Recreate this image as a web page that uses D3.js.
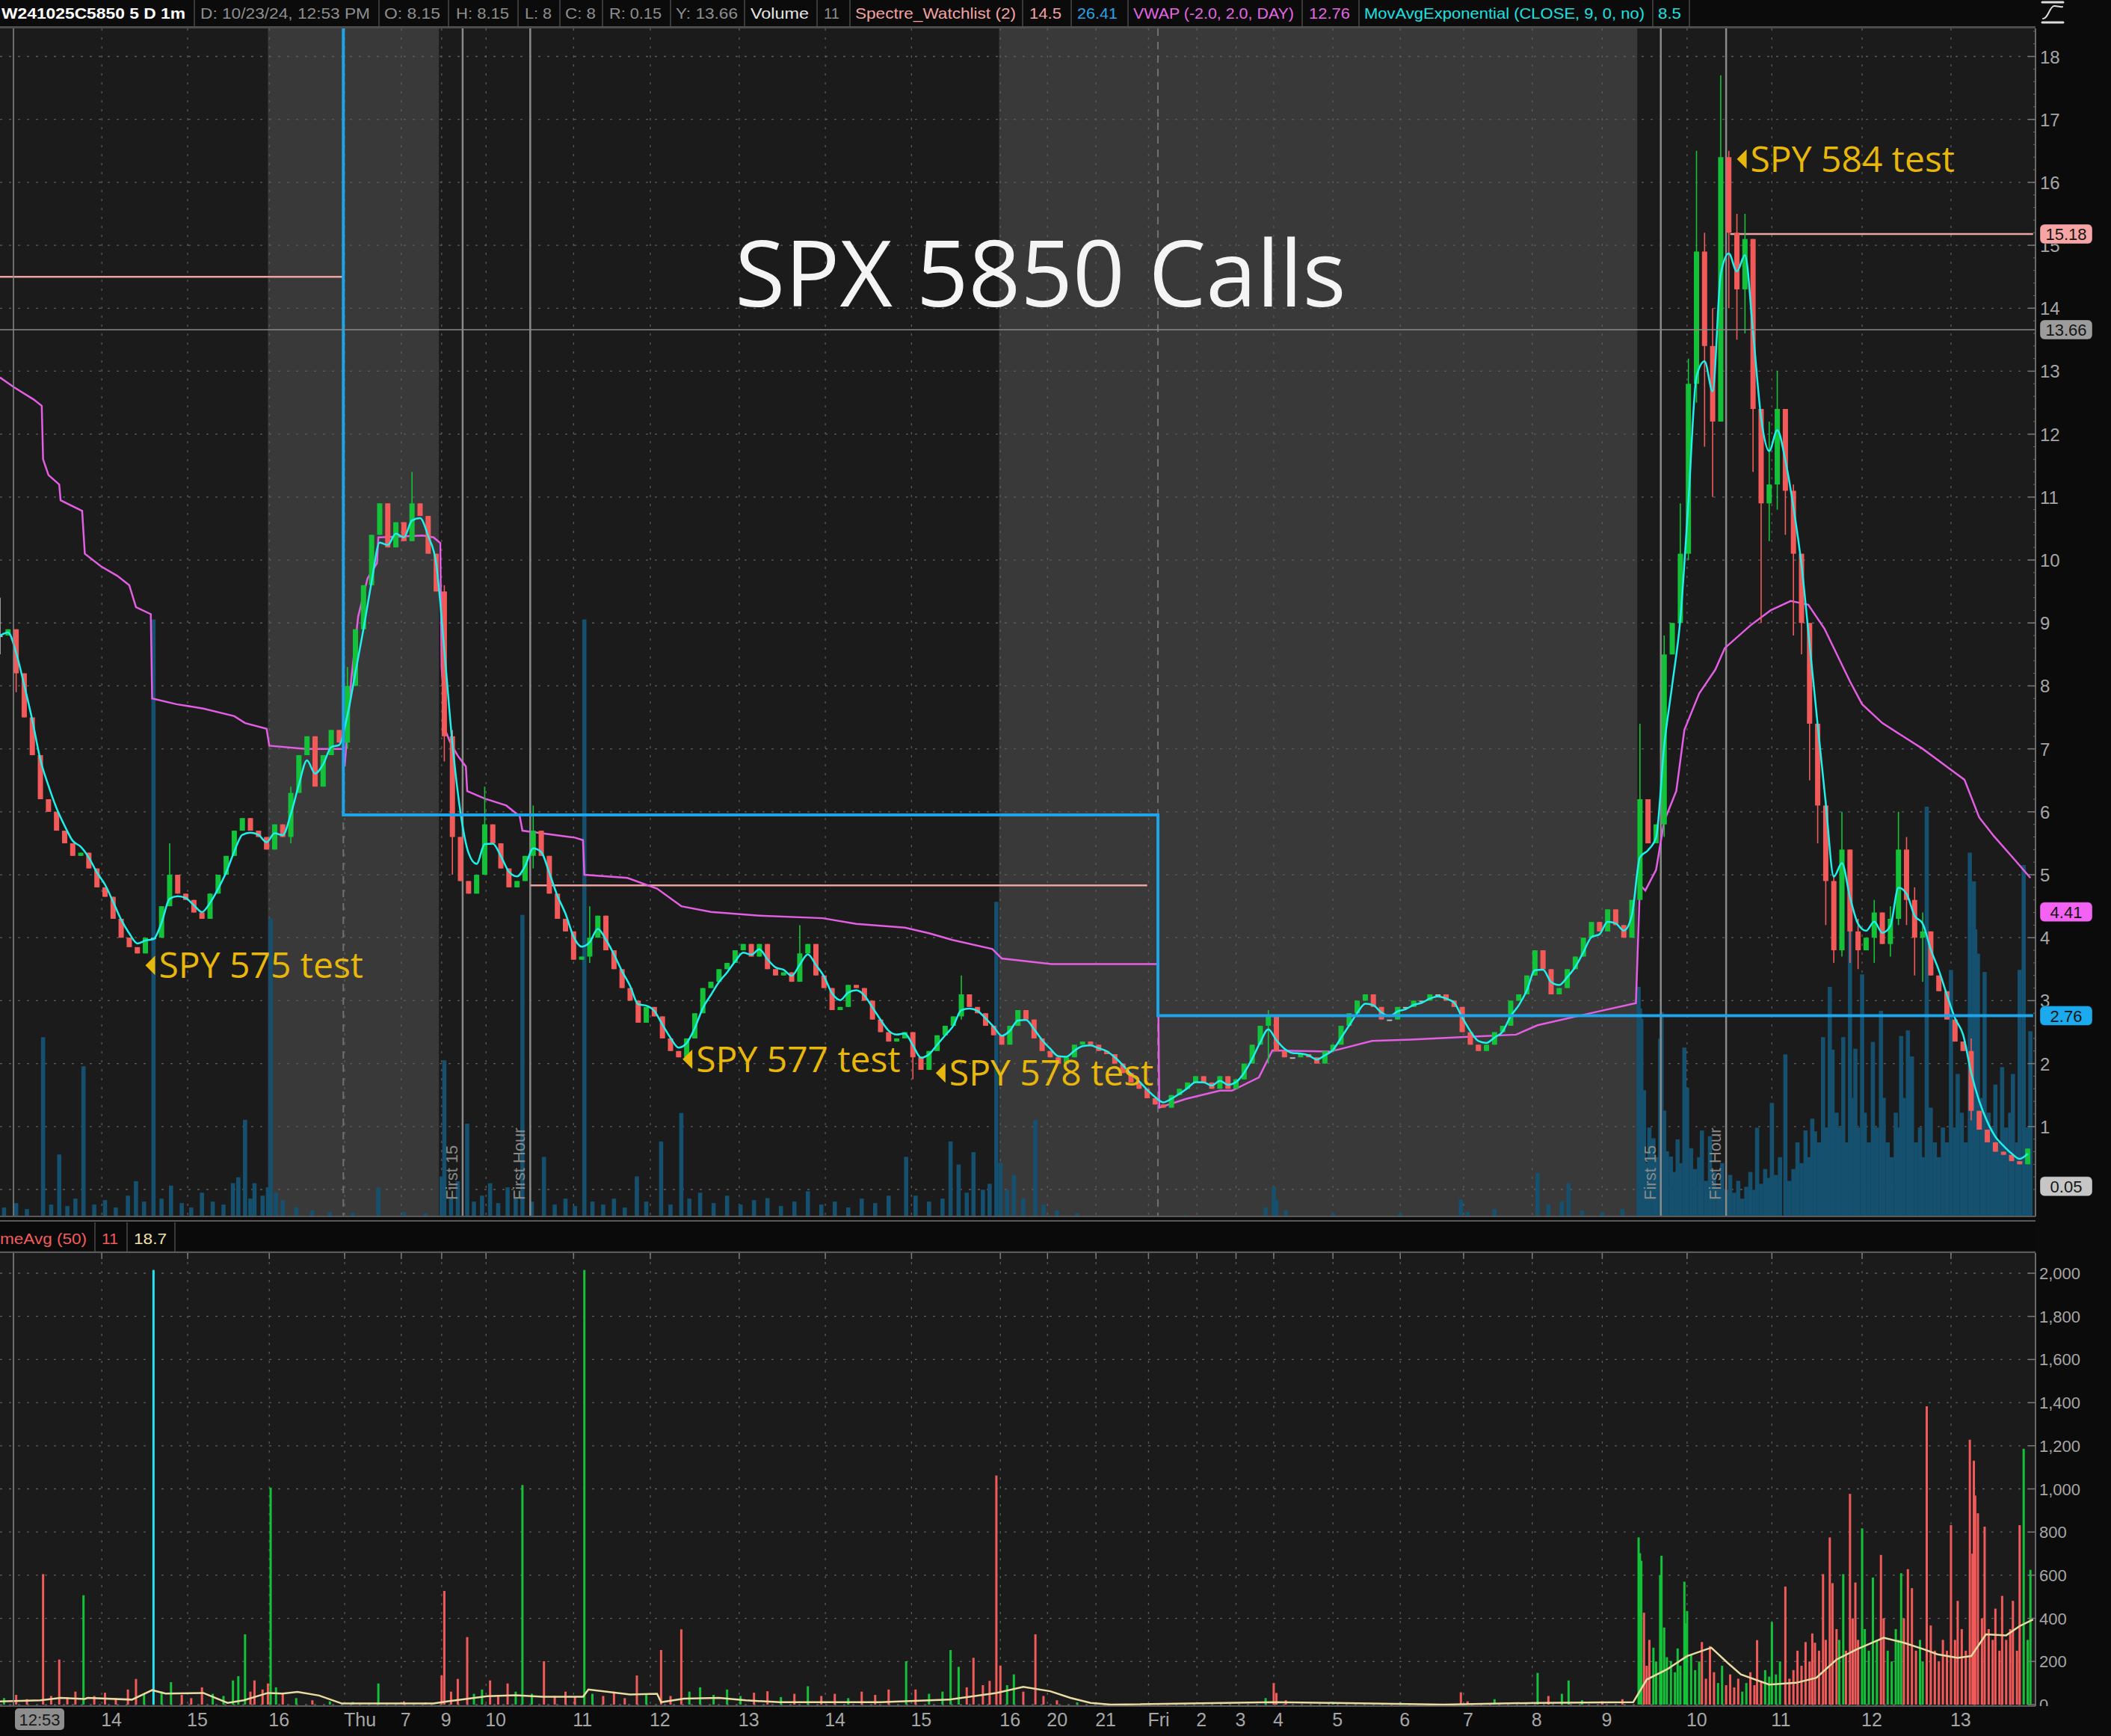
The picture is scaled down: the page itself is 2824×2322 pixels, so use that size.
<!DOCTYPE html>
<meta charset="utf-8">
<style>
body { margin: 0; background: #0b0b0b; }
svg { display: block; }
.ui { font-family: "Liberation Sans", Arial, sans-serif; }
.big { font-family: "Open Sans", "Noto Sans", sans-serif; }
</style>
<svg width="2824" height="2322"></svg>
<script src="https://cdn.jsdelivr.net/npm/d3@7"></script>
<script>

// ---- data (bar = one step of the compressed intraday time axis) ----

// closes every 6 bars, W241025C5850 1m chart
var closes = [
  8.8, 8.9, 8.2, 7.5, 6.9, 6.2, 6.0, 5.7, 5.5, 5.3,
  5.35, 5.1, 4.8, 4.65, 4.3, 4.0, 3.85, 3.75, 4.0, 4.0,
  4.5, 5.0, 4.7, 4.6, 4.4, 4.3, 4.7, 5.0, 5.3, 5.7,
  5.9, 5.7, 5.6, 5.4, 5.8, 5.6, 6.3, 6.9, 7.2, 6.4,
  6.9, 7.3, 7.1, 8.0, 8.9, 9.6, 10.4, 10.9, 10.2, 10.6,
  10.3, 10.9, 10.7, 10.1, 9.5, 7.2, 5.6, 4.9, 4.7, 5.0,
  5.8, 5.5, 5.1, 4.8, 4.9, 5.3, 5.7, 5.3, 4.7, 4.3,
  4.1, 3.65, 3.7, 4.0, 4.35, 3.8, 3.5, 3.2, 3.0, 2.65,
  2.9, 2.75, 2.4, 2.2, 2.1, 2.4, 2.8, 3.2, 3.3, 3.5,
  3.6, 3.8, 3.9, 3.7, 3.9, 3.5, 3.4, 3.45, 3.3, 3.75,
  3.9, 3.4, 3.2, 2.85, 2.9, 3.25, 3.2, 3.0, 2.7, 2.5,
  2.35, 2.4, 2.5, 2.1, 1.9, 2.2, 2.45, 2.6, 2.75, 3.1,
  2.9, 2.8, 2.6, 2.45, 2.3, 2.6, 2.85, 2.7, 2.4, 2.2,
  2.1, 2.0, 2.1, 2.3, 2.35, 2.3, 2.2, 2.15, 2.0, 1.85,
  1.7, 1.6, 1.45, 1.35, 1.3, 1.5, 1.6, 1.7, 1.8, 1.7,
  1.6, 1.8, 1.6, 1.75, 2.0, 2.3, 2.6, 2.75, 2.2, 2.1,
  2.1, 2.15, 2.1, 2.0, 2.2, 2.3, 2.6, 2.8, 3.0, 3.1,
  2.9, 2.7, 2.7, 2.9, 2.9, 3.0, 3.0, 3.1, 3.1, 3.0,
  2.9, 2.5, 2.3, 2.2, 2.3, 2.5, 2.6, 3.0, 3.1, 3.4,
  3.8, 3.5, 3.1, 3.2, 3.5, 3.7, 4.0, 4.25, 4.1, 4.45,
  4.2, 4.0, 4.6, 6.2, 5.5, 5.8, 8.5, 9.0, 10.1, 12.8,
  14.9, 13.4, 12.2, 16.4, 15.2, 14.3, 15.1, 12.4, 10.9, 11.2,
  12.4, 11.1, 10.1, 9.0, 7.4, 6.1, 4.9, 3.8, 5.4, 4.1,
  3.8, 4.0, 4.4, 3.9, 4.3, 5.4, 4.6, 4.0, 4.1, 3.4,
  3.15, 2.7, 2.35, 2.2, 1.25, 0.95, 0.75, 0.6, 0.55, 0.45,
  0.4, 0.65
];
var barStep = 6;

// wick extremes [candle index, high, low]
var wicks = [
  [0, 9.4, 8.5], [2, 8.6, 7.9], [21, 5.5, 4.5], [36, 6.4, 5.5], [43, 8.3, 7.0],
  [51, 11.4, 10.3], [55, 9.6, 6.8], [56, 7.3, 5.0], [60, 6.4, 5.0], [66, 6.1, 5.1],
  [73, 4.5, 3.6], [99, 4.2, 3.3], [113, 2.4, 1.75], [119, 3.4, 2.7], [157, 2.85, 2.0],
  [203, 7.4, 4.6], [206, 8.8, 5.6], [208, 10.9, 9.0], [209, 13.2, 10.0], [210, 16.5, 12.5],
  [211, 15.2, 11.8], [212, 14.0, 11.0], [213, 17.7, 12.5], [214, 16.5, 14.0], [215, 15.5, 13.5],
  [216, 15.5, 13.6], [217, 15.1, 11.4], [218, 12.3, 9.0], [219, 12.2, 10.3], [220, 13.0, 10.8],
  [221, 12.4, 10.4], [222, 11.2, 8.8], [223, 10.0, 8.5], [224, 8.8, 6.5], [225, 7.4, 5.5],
  [226, 6.2, 4.2], [227, 5.0, 3.6], [228, 6.0, 3.7], [229, 5.4, 3.6], [230, 4.3, 3.5],
  [232, 4.6, 3.6], [234, 4.5, 3.7], [235, 6.0, 4.2], [236, 5.6, 4.2], [237, 4.8, 3.4],
  [238, 4.4, 3.3], [244, 2.4, 1.1]
];

// volume [bar, contracts]
var volumes = [
  [3,30],[12,45],[20,25],[32,605],[38,40],[44,209],[50,35],[56,60],[62,507],[70,40],
  [78,55],[86,30],[95,70],[101,119],[107,50],[114,2015],[120,60],[127,104],[135,45],[142,30],
  [150,80],[158,50],[166,40],[173,112],[177,132],[182,326],[186,60],[189,112],[195,70],[199,98],
  [201,1006],[205,80],[210,54],[220,30],[232,20],[245,15],[262,12],[281,98],[300,15],[316,10],
  [328,135],[330,527],[335,60],[340,119],[347,313],[352,50],[358,70],[364,112],[370,45],[377,98],
  [383,60],[388,1018],[395,50],[404,201],[412,40],[420,60],[427,35],[434,2015],[440,50],[448,40],
  [456,60],[464,30],[473,135],[480,50],[491,253],[498,40],[506,349],[512,60],[520,80],[530,45],
  [540,70],[550,40],[560,55],[570,62],[580,35],[590,50],[600,85],[610,40],[620,50],[630,30],
  [640,60],[650,45],[660,70],[673,201],[680,70],[690,50],[700,60],[706,253],[712,175],[718,80],
  [723,217],[730,90],[735,110],[740,1062],[743,181],[748,90],[753,140],[760,60],[769,326],[775,40],
  [785,20],[800,10],[880,5],[940,30],[946,100],[948,54],[955,20],[990,10],[1040,10],[1085,57],
  [1090,15],[1110,25],[1142,147],[1150,40],[1160,50],[1165,112],[1175,20],[1190,15],[1205,25],
  [1217,775],[1218,702],[1219,667],[1221,426],[1223,180],[1225,300],[1228,264],[1230,200],[1233,600],[1234,690],
  [1236,357],[1238,220],[1241,202],[1244,150],[1246,260],[1248,180],[1251,570],[1252,377],[1253,434],[1256,230],
  [1259,160],[1262,200],[1264,290],[1267,120],[1270,271],[1273,150],[1276,100],[1279,180],[1282,90],[1285,140],
  [1288,80],[1291,120],[1294,60],[1297,100],[1300,150],[1303,90],[1305,299],[1308,110],[1311,160],[1314,130],
  [1316,383],[1319,140],[1322,200],[1326,547],[1329,120],[1332,160],[1335,250],[1338,180],[1341,290],[1344,200],
  [1346,330],[1348,287],[1351,250],[1354,605],[1356,300],[1359,775],[1361,563],[1364,350],[1366,300],[1369,605],
  [1371,250],[1374,977],[1376,400],[1378,566],[1380,300],[1383,817],[1385,350],[1388,250],[1391,589],[1394,300],
  [1397,694],[1399,400],[1402,250],[1405,200],[1408,350],[1410,300],[1412,609],[1414,400],[1417,628],[1420,540],
  [1423,250],[1426,300],[1428,200],[1431,1383],[1434,367],[1437,250],[1440,200],[1443,300],[1446,250],[1449,832],
  [1452,300],[1454,481],[1457,350],[1460,250],[1463,1228],[1465,700],[1466,1131],[1467,969],[1469,887],[1472,400],
  [1474,825],[1477,350],[1480,300],[1482,445],[1485,250],[1487,504],[1490,300],[1493,350],[1495,481],[1498,250],
  [1500,832],[1503,1186],[1506,300],[1508,625]
];

// VolumeAvg(50) [bar, value]
var volAvg = [
  [0,15],[30,20],[45,31],[63,26],[65,31],[98,23],[113,67],[123,51],[151,54],[169,8],
  [181,20],[199,54],[210,51],[221,59],[237,42],[254,5],[322,5],[332,15],[362,39],[383,43],
  [403,36],[433,36],[437,70],[468,47],[488,50],[491,11],[508,28],[534,31],[554,20],[579,11],
  [654,11],[705,23],[740,54],[760,82],[780,62],[795,31],[810,8],[825,0],[946,11],[991,8],
  [1072,0],[1142,8],[1213,11],[1223,116],[1238,163],[1253,225],[1271,264],[1283,194],[1293,140],[1314,93],
  [1334,101],[1349,124],[1364,209],[1379,256],[1399,310],[1414,287],[1429,256],[1439,233],[1454,217],[1464,225],
  [1475,326],[1490,321],[1500,364],[1510,395]
];

// VWAP (DAY) [bar, value]
var vwap = [
  [0,12.9],[10,12.75],[25,12.55],[31,12.45],[32,11.6],[36,11.35],[44,11.2],[45,10.95],[61,10.78],[63,10.1],
  [75,9.9],[87,9.75],[96,9.6],[101,9.25],[112,9.14],[113,7.8],[131,7.71],[151,7.64],[174,7.52],[182,7.41],
  [198,7.32],[200,7.05],[227,7.0],[255,7.0],
  [256,6.72],[261,8.13],[266,9.1],[273,9.71],[280,9.95],[281,10.36],[314,10.39],[322,10.36],[327,10.27],[328,8.3],
  [331,7.28],[334,7.12],[340,6.89],[346,6.72],[347,6.33],[360,6.21],[376,6.1],[386,5.93],[388,5.7],[427,5.59],
  [433,5.55],[434,5.0],[466,4.95],[488,4.78],[506,4.5],[528,4.41],[564,4.35],[611,4.31],[636,4.22],[672,4.16],
  [690,4.07],[708,3.96],[737,3.82],[744,3.67],[781,3.58],[860,3.58],
  [861,1.3],[881,1.44],[906,1.57],[915,1.57],[935,1.78],[945,2.21],[988,2.19],[1019,2.36],[1048,2.38],[1094,2.43],
  [1126,2.46],[1142,2.61],[1179,2.79],[1215,2.96],[1218,4.84],[1222,4.75],[1230,5.08],[1236,5.85],[1245,6.33],[1251,7.3],
  [1262,7.88],[1274,8.26],[1281,8.6],[1300,8.96],[1315,9.2],[1330,9.35],[1343,9.29],[1355,8.91],[1374,8.07],[1383,7.71],
  [1398,7.41],[1428,7.0],[1447,6.7],[1459,6.51],[1470,5.91],[1481,5.61],[1495,5.27],[1508,4.95]
];

// Spectre_Watchlist levels [start bar, value]
var spectre = [[0, 26.41], [255, 5.95], [860, 2.76], [1510, 2.76]];
var spectreHL = [[0, 255, 14.5], [394, 852, 4.83], [1285, 1510, 15.18]];

var extHours = [[199, 326], [742, 1216]];
var dayBreaks = [255, 860];
var markers = [[343.6, "First 15"], [393.8, "First Hour"], [1233.5, "First 15"], [1282, "First Hour"]];
var cursor = { bar: 10, value: 13.66, label: "12:53" };

var hourBars = [75.6, 139.4, 200, 256, 298, 328, 361, 426, 483, 549, 613, 677, 743, 778, 814, 853,
  889, 918, 946, 990, 1040, 1087, 1138, 1190, 1253, 1316, 1383, 1449];
var hourLabels = ["14", "15", "16", "Thu", "7", "9", "10", "11", "12", "13", "14", "15", "16", "20", "21", "Fri",
  "2", "3", "4", "5", "6", "7", "8", "9", "10", "11", "12", "13"];

var priceTicks = d3.range(1, 19);
var volTicks = d3.range(0, 2001, 200);

var notes = [
  [108, 3.56, "SPY 575 test"], [507, 2.07, "SPY 577 test"],
  [695, 1.85, "SPY 578 test"], [1290, 16.37, "SPY 584 test"]
];
var tagValues = [15.18, 13.66, 4.41, 2.76, 0.05];
var tagColors = ["#f6a4a4", "#9c9c9c", "#f462f4", "#1caaee", "#c6c6c6"];

var headerItems = [
  ["W241025C5850 5 D 1m", 2, 246, "#ffffff", "bold"],
  ["D: 10/23/24, 12:53 PM", 268, 227, "#8e8e8e"],
  ["O: 8.15", 514, 75, "#8e8e8e"],
  ["H: 8.15", 610, 71, "#8e8e8e"],
  ["L: 8", 702, 36, "#8e8e8e"],
  ["C: 8", 756, 41, "#8e8e8e"],
  ["R: 0.15", 815, 70, "#8e8e8e"],
  ["Y: 13.66", 904, 83, "#8e8e8e"],
  ["Volume", 1004, 78, "#e6e6e6"],
  ["11", 1102, 21, "#8e8e8e"],
  ["Spectre_Watchlist (2)", 1144, 215, "#f2a2a2"],
  ["14.5", 1377, 43, "#f2a2a2"],
  ["26.41", 1441, 54, "#2aa4e6"],
  ["VWAP (-2.0, 2.0, DAY)", 1516, 215, "#e466e4"],
  ["12.76", 1751, 55, "#e466e4"],
  ["MovAvgExponential (CLOSE, 9, 0, no)", 1825, 375, "#1fe0e0"],
  ["8.5", 2218, 31, "#1fe0e0"]
];
var headerSeps = [260, 507, 600, 693, 749, 806, 897, 996, 1093, 1137, 1368, 1433, 1509, 1742, 1818, 2211, 2260];
var lowerItems = [["meAvg (50)", 0, 116, "#f25c5c"], ["11", 136, 22, "#f25c5c"], ["18.7", 179, 44, "#f0e2a8"]];
var lowerSeps = [127, 170, 234];

// ---- layout ----
var svg = d3.select("svg");
var plotRight = 2723, mainTop = 38, mainBottom = 1627, lowTop = 1676, lowBottom = 2282;

var x = d3.scaleLinear().domain([0, 1512]).range([0, 2723.4]);
var y = d3.scaleLinear().domain([0, 18]).range([1591, 75.5]);
var yVolMain = d3.scaleLinear().domain([0, 4000]).range([mainBottom, 42]);
var yVol = d3.scaleLinear().domain([0, 2000]).range([2280, 1703]);

var GREEN = "#14c23a", RED = "#f25a5a", CYAN = "#22e6f0";

var candles = closes.map(function(c, i) {
  var o = i ? closes[i - 1] : c;
  return { i: i, bar: i * barStep, o: o, c: c, hi: Math.max(o, c), lo: Math.min(o, c) };
});
wicks.forEach(function(w) {
  var k = candles[w[0]];
  k.hi = Math.max(k.hi, w[1]);
  k.lo = Math.min(k.lo, w[2]);
});
function dirColor(k) { return k.c > k.o ? GREEN : k.c < k.o ? RED : CYAN; }

// MovAvgExponential on the closes
var ema = [];
closes.forEach(function(c, i) { ema.push(i ? ema[i - 1] + 0.5 * (c - ema[i - 1]) : c); });

svg.append("rect").attr("width", 2824).attr("height", 2322).attr("fill", "#0b0b0b");

// header
var head = svg.append("g").attr("class", "ui");
head.selectAll("text.h").data(headerItems).enter().append("text")
    .attr("x", d => d[1]).attr("y", 25)
    .attr("textLength", d => d[2]).attr("lengthAdjust", "spacingAndGlyphs")
    .attr("font-size", 21).attr("font-weight", d => d[4] || "normal")
    .attr("fill", d => d[3]).text(d => d[0]);
head.selectAll("line.s").data(headerSeps).enter().append("line")
    .attr("x1", d => d).attr("x2", d => d).attr("y1", 0).attr("y2", 35)
    .attr("stroke", "#4a4a4a").attr("stroke-width", 1.5);
svg.append("rect").attr("x", 0).attr("y", 35).attr("width", plotRight).attr("height", 3).attr("fill", "#4c4c4c");
// icon at the right of the header
var ic = svg.append("g").attr("stroke", "#dcdcdc").attr("fill", "none").attr("stroke-linecap", "round");
ic.append("line").attr("x1", 2732).attr("x2", 2760).attr("y1", 3).attr("y2", 3).attr("stroke-width", 3);
ic.append("line").attr("x1", 2732).attr("x2", 2760).attr("y1", 30).attr("y2", 30).attr("stroke-width", 3);
ic.append("path").attr("d", "M2733,25 C2740,25 2742,8 2748,8 S2756,10 2759,9").attr("stroke-width", 2);

// ---- main panel ----
svg.append("clipPath").attr("id", "clipMain").append("rect")
    .attr("x", 0).attr("y", mainTop).attr("width", plotRight).attr("height", mainBottom - mainTop);
var main = svg.append("g").attr("clip-path", "url(#clipMain)");

main.append("rect").attr("x", 0).attr("y", mainTop).attr("width", plotRight)
    .attr("height", mainBottom - mainTop).attr("fill", "#1b1b1b");
main.selectAll("rect.ext").data(extHours).enter().append("rect")
    .attr("x", d => x(d[0])).attr("width", d => x(d[1]) - x(d[0]))
    .attr("y", mainTop).attr("height", mainBottom - mainTop).attr("fill", "#393939");

main.selectAll("line.gy").data(d3.range(0, 19)).enter().append("line")
    .attr("x1", 0).attr("x2", plotRight).attr("y1", d => y(d)).attr("y2", d => y(d))
    .attr("stroke", "#5c5c5c").attr("stroke-width", 1.3).attr("stroke-dasharray", "3,9");
main.selectAll("line.gx").data(hourBars).enter().append("line")
    .attr("x1", d => x(d)).attr("x2", d => x(d)).attr("y1", mainTop).attr("y2", mainBottom)
    .attr("stroke", "#5c5c5c").attr("stroke-width", 1.3).attr("stroke-dasharray", "3,9");

// volume overlay
main.selectAll("rect.vo").data(volumes).enter().append("rect")
    .attr("x", d => x(d[0]) - 2.8).attr("width", 5.6)
    .attr("y", d => yVolMain(d[1])).attr("height", d => mainBottom - yVolMain(d[1]))
    .attr("fill", "#15506e");

main.selectAll("line.day").data(dayBreaks).enter().append("line")
    .attr("x1", d => x(d)).attr("x2", d => x(d)).attr("y1", mainTop).attr("y2", mainBottom)
    .attr("stroke", "#707070").attr("stroke-width", 2).attr("stroke-dasharray", "10,8");

main.selectAll("line.mk").data(markers).enter().append("line")
    .attr("x1", d => x(d[0])).attr("x2", d => x(d[0])).attr("y1", mainTop).attr("y2", mainBottom)
    .attr("stroke", "#8a8a8a").attr("stroke-width", 2.5);
main.selectAll("text.mk").data(markers).enter().append("text")
    .attr("class", "ui").attr("font-size", 22).attr("fill", "#8a8a8a")
    .attr("transform", d => "translate(" + (x(d[0]) - 7) + "," + (mainBottom - 22) + ") rotate(-90)")
    .text(d => d[1]);

// Spectre high lines
main.selectAll("line.hl").data(spectreHL).enter().append("line")
    .attr("x1", d => x(d[0])).attr("x2", d => x(d[1])).attr("y1", d => y(d[2])).attr("y2", d => y(d[2]))
    .attr("stroke", "#eea2a2").attr("stroke-width", 2.5);

// VWAP
main.append("path").datum(vwap)
    .attr("d", d3.line().x(d => x(d[0])).y(d => y(d[1])))
    .attr("fill", "none").attr("stroke", "#e35ee3").attr("stroke-width", 2.5);

// candles
var cg = main.selectAll("g.c").data(candles).enter().append("g");
cg.append("line")
    .attr("x1", d => x(d.bar)).attr("x2", d => x(d.bar))
    .attr("y1", d => y(d.hi)).attr("y2", d => y(d.lo))
    .attr("stroke", d => d.c === d.o ? "#b8b8b8" : dirColor(d)).attr("stroke-width", 1.6);
cg.append("rect")
    .attr("x", d => x(d.bar) - 3.5).attr("width", 7)
    .attr("y", d => y(Math.max(d.o, d.c)))
    .attr("height", d => Math.max(2, Math.abs(y(d.o) - y(d.c))))
    .attr("fill", d => d.c === d.o ? "#b8b8b8" : dirColor(d));

// EMA
main.append("path").datum(ema)
    .attr("d", d3.line().x((d, i) => x(i * barStep)).y(d => y(d)).curve(d3.curveMonotoneX))
    .attr("fill", "none").attr("stroke", "#1ff0ec").attr("stroke-width", 2.5);

// Spectre step line
main.append("path").datum(spectre)
    .attr("d", d3.line().x(d => x(d[0])).y(d => y(d[1])).curve(d3.curveStepAfter))
    .attr("fill", "none").attr("stroke", "#1ea4e8").attr("stroke-width", 4);

// cursor
main.append("line").attr("x1", 0).attr("x2", plotRight)
    .attr("y1", y(cursor.value)).attr("y2", y(cursor.value))
    .attr("stroke", "#8a8a8a").attr("stroke-width", 1.5);
main.append("line").attr("x1", x(cursor.bar)).attr("x2", x(cursor.bar))
    .attr("y1", mainTop).attr("y2", mainBottom).attr("stroke", "#8a8a8a").attr("stroke-width", 1.5);

// title and notes
main.append("text").attr("class", "big").attr("x", 1392).attr("y", 410)
    .attr("text-anchor", "middle").attr("font-size", 122).attr("fill", "#f4f4f4")
    .text("SPX 5850 Calls");
var ng = main.selectAll("g.n").data(notes).enter().append("g")
    .attr("transform", d => "translate(" + x(d[0]) + "," + y(d[1]) + ")");
ng.append("path").attr("d", "M0,0 L13,-13 L13,13 Z").attr("fill", "#e8b70c");
ng.append("text").attr("class", "big").attr("x", 18).attr("y", 17)
    .attr("font-size", 48).attr("fill", "#e8b70c").text(d => d[2]);

// main frame
svg.append("line").attr("x1", 0).attr("x2", plotRight).attr("y1", mainBottom).attr("y2", mainBottom)
    .attr("stroke", "#5a5a5a").attr("stroke-width", 2);
svg.append("line").attr("x1", 0).attr("x2", plotRight).attr("y1", mainBottom + 6).attr("y2", mainBottom + 6)
    .attr("stroke", "#5a5a5a").attr("stroke-width", 2);
svg.append("line").attr("x1", plotRight).attr("x2", plotRight).attr("y1", mainTop).attr("y2", mainBottom)
    .attr("stroke", "#6a6a6a").attr("stroke-width", 2);

// price axis
var ax = svg.append("g").attr("class", "ui");
ax.selectAll("line.mt").data(d3.range(0, 18.5, 0.2)).enter().append("line")
    .attr("x1", plotRight - 3).attr("x2", plotRight).attr("y1", d => y(d)).attr("y2", d => y(d))
    .attr("stroke", "#6a6a6a");
ax.selectAll("line.t").data(priceTicks).enter().append("line")
    .attr("x1", plotRight - 10).attr("x2", plotRight).attr("y1", d => y(d)).attr("y2", d => y(d))
    .attr("stroke", "#7a7a7a").attr("stroke-width", 1.5);
ax.selectAll("text.t").data(priceTicks).enter().append("text")
    .attr("x", 2729).attr("y", d => y(d) + 9).attr("font-size", 24).attr("fill", "#a6a6a6")
    .text(d => d);
var tg = ax.selectAll("g.tag").data(tagValues).enter().append("g")
    .attr("transform", d => "translate(2729," + y(d) + ")");
tg.append("rect").attr("x", 0).attr("y", -13).attr("width", 70).attr("height", 26).attr("rx", 6)
    .attr("fill", (d, i) => tagColors[i]).attr("stroke", "rgba(0,0,0,0.35)");
tg.append("text").attr("x", 35).attr("y", 8).attr("text-anchor", "middle")
    .attr("font-size", 22).attr("fill", "#151515").text(d => d.toFixed(2));

// ---- lower panel (volume) ----
svg.append("rect").attr("x", 0).attr("y", mainBottom + 8).attr("width", plotRight)
    .attr("height", lowTop - mainBottom - 8).attr("fill", "#0a0a0a");
var lh = svg.append("g").attr("class", "ui");
lh.selectAll("text").data(lowerItems).enter().append("text")
    .attr("x", d => d[1]).attr("y", 1664).attr("textLength", d => d[2])
    .attr("lengthAdjust", "spacingAndGlyphs").attr("font-size", 21)
    .attr("fill", d => d[3]).text(d => d[0]);
lh.selectAll("line").data(lowerSeps).enter().append("line")
    .attr("x1", d => d).attr("x2", d => d).attr("y1", mainBottom + 8).attr("y2", lowTop)
    .attr("stroke", "#4a4a4a").attr("stroke-width", 1.5);
svg.append("line").attr("x1", 0).attr("x2", plotRight).attr("y1", lowTop - 1).attr("y2", lowTop - 1)
    .attr("stroke", "#5a5a5a").attr("stroke-width", 2.5);

svg.append("clipPath").attr("id", "clipLow").append("rect")
    .attr("x", 0).attr("y", lowTop).attr("width", plotRight).attr("height", lowBottom - lowTop);
var low = svg.append("g").attr("clip-path", "url(#clipLow)");
low.append("rect").attr("x", 0).attr("y", lowTop).attr("width", plotRight)
    .attr("height", lowBottom - lowTop).attr("fill", "#1b1b1b");
low.selectAll("line.gy").data(volTicks).enter().append("line")
    .attr("x1", 0).attr("x2", plotRight).attr("y1", d => yVol(d)).attr("y2", d => yVol(d))
    .attr("stroke", "#5c5c5c").attr("stroke-width", 1.3).attr("stroke-dasharray", "3,9");
low.selectAll("line.gx").data(hourBars).enter().append("line")
    .attr("x1", d => x(d)).attr("x2", d => x(d)).attr("y1", lowTop).attr("y2", lowBottom)
    .attr("stroke", "#5c5c5c").attr("stroke-width", 1.3).attr("stroke-dasharray", "3,9");
low.selectAll("line.tk").data(hourBars).enter().append("line")
    .attr("x1", d => x(d)).attr("x2", d => x(d)).attr("y1", lowTop).attr("y2", lowTop + 8)
    .attr("stroke", "#7a7a7a").attr("stroke-width", 1.5);
low.selectAll("rect.v").data(volumes).enter().append("rect")
    .attr("x", d => x(d[0]) - 1.5).attr("width", 3)
    .attr("y", d => yVol(d[1])).attr("height", d => yVol(0) - yVol(d[1]))
    .attr("fill", d => dirColor(candles[Math.min(candles.length - 1, Math.round(d[0] / barStep))]));
low.append("path").datum(volAvg)
    .attr("d", d3.line().x(d => x(d[0])).y(d => yVol(d[1])))
    .attr("fill", "none").attr("stroke", "#e8dca2").attr("stroke-width", 2.5);
low.append("line").attr("x1", x(cursor.bar)).attr("x2", x(cursor.bar))
    .attr("y1", lowTop).attr("y2", lowBottom).attr("stroke", "#8a8a8a").attr("stroke-width", 1.5);

svg.append("line").attr("x1", plotRight).attr("x2", plotRight).attr("y1", lowTop).attr("y2", lowBottom)
    .attr("stroke", "#6a6a6a").attr("stroke-width", 2);
var vax = svg.append("g").attr("class", "ui");
vax.selectAll("line").data(volTicks).enter().append("line")
    .attr("x1", plotRight - 10).attr("x2", plotRight).attr("y1", d => yVol(d)).attr("y2", d => yVol(d))
    .attr("stroke", "#7a7a7a").attr("stroke-width", 1.5);
vax.selectAll("text").data(volTicks).enter().append("text")
    .attr("x", 2728).attr("y", d => yVol(d) + 8).attr("font-size", 22).attr("fill", "#a6a6a6")
    .text(d3.format(","));

// ---- time axis ----
svg.append("rect").attr("x", 0).attr("y", lowBottom).attr("width", 2824).attr("height", 2322 - lowBottom)
    .attr("fill", "#0b0b0b");
svg.append("line").attr("x1", 0).attr("x2", plotRight).attr("y1", lowBottom).attr("y2", lowBottom)
    .attr("stroke", "#5a5a5a").attr("stroke-width", 2);
var tx = svg.append("g").attr("class", "ui");
tx.selectAll("text").data(hourBars).enter().append("text")
    .attr("x", d => x(d) - 1).attr("y", 2309).attr("font-size", 25).attr("fill", "#a6a6a6")
    .text((d, i) => hourLabels[i]);
tx.append("rect").attr("x", 20).attr("y", 2285).attr("width", 66).attr("height", 29).attr("rx", 5)
    .attr("fill", "#8e8e8e");
tx.append("text").attr("x", 53).attr("y", 2308).attr("text-anchor", "middle")
    .attr("font-size", 22).attr("fill", "#1a1a1a").text(cursor.label);

</script>
